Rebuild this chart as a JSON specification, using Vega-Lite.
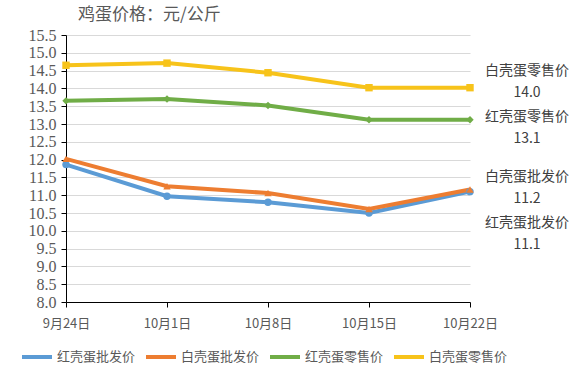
{
  "$schema": "https://vega.github.io/schema/vega-lite/v6.json",
  "width": 404,
  "height": 267,
  "autosize": {"type": "none"},
  "padding": {"left": 66, "top": 35, "right": 115, "bottom": 66},
  "background": "white",
  "config": {
    "font": "Noto Sans CJK SC",
    "view": {"stroke": null}
  },
  "title": {
    "text": "鸡蛋价格：元/公斤",
    "anchor": "start",
    "dx": 58,
    "offset": 3,
    "fontSize": 17,
    "fontWeight": "normal",
    "color": "#595959"
  },
  "data": {
    "values": [
      {"date": "9月24日", "series": "红壳蛋批发价", "value": 11.86},
      {"date": "10月1日", "series": "红壳蛋批发价", "value": 10.97},
      {"date": "10月8日", "series": "红壳蛋批发价", "value": 10.8},
      {"date": "10月15日", "series": "红壳蛋批发价", "value": 10.5},
      {"date": "10月22日", "series": "红壳蛋批发价", "value": 11.1},
      {"date": "9月24日", "series": "白壳蛋批发价", "value": 12.02},
      {"date": "10月1日", "series": "白壳蛋批发价", "value": 11.25},
      {"date": "10月8日", "series": "白壳蛋批发价", "value": 11.06},
      {"date": "10月15日", "series": "白壳蛋批发价", "value": 10.61},
      {"date": "10月22日", "series": "白壳蛋批发价", "value": 11.16},
      {"date": "9月24日", "series": "红壳蛋零售价", "value": 13.65},
      {"date": "10月1日", "series": "红壳蛋零售价", "value": 13.7},
      {"date": "10月8日", "series": "红壳蛋零售价", "value": 13.52},
      {"date": "10月15日", "series": "红壳蛋零售价", "value": 13.12},
      {"date": "10月22日", "series": "红壳蛋零售价", "value": 13.12},
      {"date": "9月24日", "series": "白壳蛋零售价", "value": 14.65},
      {"date": "10月1日", "series": "白壳蛋零售价", "value": 14.71},
      {"date": "10月8日", "series": "白壳蛋零售价", "value": 14.44},
      {"date": "10月15日", "series": "白壳蛋零售价", "value": 14.02},
      {"date": "10月22日", "series": "白壳蛋零售价", "value": 14.02}
    ]
  },
  "encoding": {
    "x": {
      "field": "date",
      "type": "ordinal",
      "sort": ["9月24日", "10月1日", "10月8日", "10月15日", "10月22日"],
      "scale": {"type": "point", "padding": 0},
      "axis": {
        "title": null,
        "labelAngle": 0,
        "labelFontSize": 13,
        "labelColor": "#595959",
        "labelPadding": 10,
        "domainColor": "#000000",
        "tickColor": "#000000",
        "tickSize": 5,
        "grid": false
      }
    },
    "y": {
      "field": "value",
      "type": "quantitative",
      "scale": {"domain": [8, 15.5], "nice": false, "zero": false},
      "axis": {
        "title": null,
        "values": [8, 8.5, 9, 9.5, 10, 10.5, 11, 11.5, 12, 12.5, 13, 13.5, 14, 14.5, 15, 15.5],
        "format": ".1f",
        "labelFont": "Liberation Serif",
        "labelFontSize": 16,
        "labelColor": "#595959",
        "labelPadding": 5,
        "labelOverlap": false,
        "domainColor": "#000000",
        "tickColor": "#000000",
        "tickSize": 5,
        "gridColor": "#d9d9d9",
        "grid": true
      }
    },
    "color": {
      "field": "series",
      "type": "nominal",
      "sort": ["红壳蛋批发价", "白壳蛋批发价", "红壳蛋零售价", "白壳蛋零售价"],
      "scale": {
        "domain": ["红壳蛋批发价", "白壳蛋批发价", "红壳蛋零售价", "白壳蛋零售价"],
        "range": ["#5b9bd5", "#ed7d31", "#70ad47", "#f7c31a"]
      },
      "legend": {
        "title": null,
        "orient": "none",
        "legendX": -46,
        "legendY": 305,
        "direction": "horizontal",
        "columns": 4,
        "symbolType": "stroke",
        "symbolStrokeWidth": 4,
        "symbolSize": 900,
        "labelFontSize": 13,
        "labelColor": "#595959",
        "columnPadding": 2,
        "labelOffset": 3
      }
    }
  },
  "layer": [
    {
      "mark": {"type": "line", "strokeWidth": 4},
      "encoding": {"detail": {"field": "series"}}
    },
    {
      "transform": [{"filter": "datum.series === '红壳蛋批发价'"}],
      "mark": {"type": "point", "shape": "circle", "filled": true, "size": 55, "opacity": 1}
    },
    {
      "transform": [{"filter": "datum.series === '白壳蛋批发价'"}],
      "mark": {"type": "point", "shape": "triangle-up", "filled": true, "size": 55, "opacity": 1}
    },
    {
      "transform": [{"filter": "datum.series === '红壳蛋零售价'"}],
      "mark": {"type": "point", "shape": "diamond", "filled": true, "size": 55, "opacity": 1}
    },
    {
      "transform": [{"filter": "datum.series === '白壳蛋零售价'"}],
      "mark": {"type": "point", "shape": "square", "filled": true, "size": 55, "opacity": 1}
    },
    {
      "transform": [
        {"filter": "datum.date === '10月22日' && datum.series === '白壳蛋零售价'"},
        {"calculate": "[datum.series, format(datum.value, '.1f')]", "as": "lab"}
      ],
      "mark": {"type": "text", "dx": 57, "dy": -17, "fontSize": 14, "lineHeight": 22, "align": "center", "baseline": "middle"},
      "encoding": {"text": {"field": "lab"}, "color": {"value": "#404040"}}
    },
    {
      "transform": [
        {"filter": "datum.date === '10月22日' && datum.series === '红壳蛋零售价'"},
        {"calculate": "[datum.series, format(datum.value, '.1f')]", "as": "lab"}
      ],
      "mark": {"type": "text", "dx": 57, "dy": -3, "fontSize": 14, "lineHeight": 22, "align": "center", "baseline": "middle"},
      "encoding": {"text": {"field": "lab"}, "color": {"value": "#404040"}}
    },
    {
      "transform": [
        {"filter": "datum.date === '10月22日' && datum.series === '白壳蛋批发价'"},
        {"calculate": "[datum.series, '11.2']", "as": "lab"}
      ],
      "mark": {"type": "text", "dx": 57, "dy": -13, "fontSize": 14, "lineHeight": 22, "align": "center", "baseline": "middle"},
      "encoding": {"text": {"field": "lab"}, "color": {"value": "#404040"}}
    },
    {
      "transform": [
        {"filter": "datum.date === '10月22日' && datum.series === '红壳蛋批发价'"},
        {"calculate": "[datum.series, format(datum.value, '.1f')]", "as": "lab"}
      ],
      "mark": {"type": "text", "dx": 57, "dy": 31, "fontSize": 14, "lineHeight": 22, "align": "center", "baseline": "middle"},
      "encoding": {"text": {"field": "lab"}, "color": {"value": "#404040"}}
    }
  ]
}
